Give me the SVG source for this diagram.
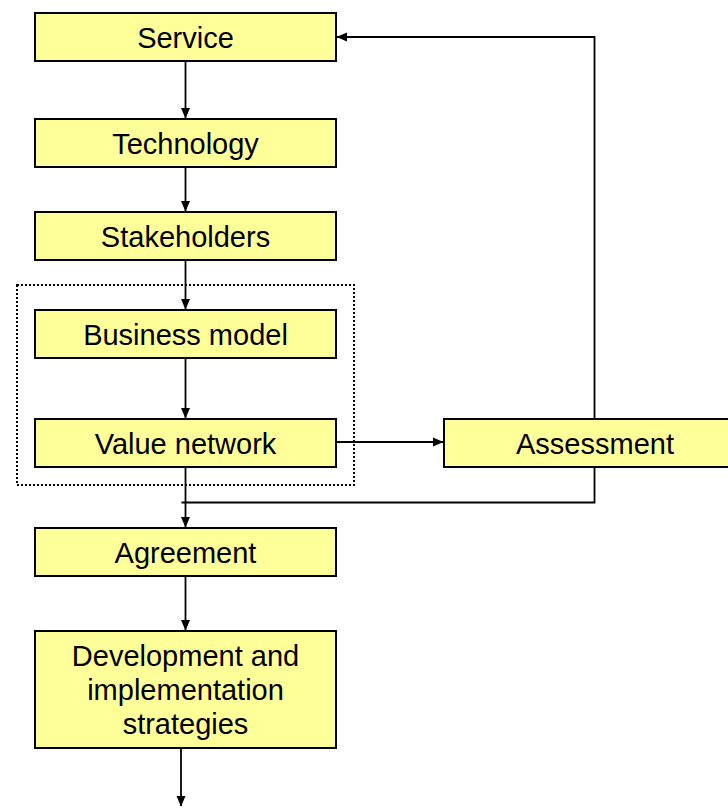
<svg xmlns="http://www.w3.org/2000/svg" width="728" height="808" viewBox="0 0 728 808">
<defs>
<style>
.box{fill:#FFFF99;stroke:#000;stroke-width:2}
.t{font-family:"Liberation Sans",Arial,sans-serif;font-size:29px;fill:#000;text-anchor:middle}
.c{fill:none;stroke:#000;stroke-width:1.8}
</style>
<marker id="ah" markerWidth="11" markerHeight="11" refX="10" refY="5.5" orient="auto" markerUnits="userSpaceOnUse">
<path d="M0,1 L10.5,5.5 L0,10 Z" fill="#000"/>
</marker>
</defs>
<rect width="728" height="808" fill="#fff"/>
<g id="connectors">
<line class="c" x1="185.5" y1="61" x2="185.5" y2="118" marker-end="url(#ah)"/>
<line class="c" x1="185.5" y1="167" x2="185.5" y2="211" marker-end="url(#ah)"/>
<line class="c" x1="185.5" y1="260" x2="185.5" y2="309" marker-end="url(#ah)"/>
<line class="c" x1="185.5" y1="358" x2="185.5" y2="418" marker-end="url(#ah)"/>
<line class="c" x1="336" y1="442" x2="443" y2="442" marker-end="url(#ah)"/>
<line class="c" x1="185.5" y1="467" x2="185.5" y2="527" marker-end="url(#ah)"/>
<polyline class="c" points="594.5,467 594.5,502.5 181.5,502.5"/>
<polyline class="c" points="594.5,419 594.5,37 337,37" marker-end="url(#ah)"/>
<line class="c" x1="185.5" y1="576" x2="185.5" y2="630" marker-end="url(#ah)"/>
<line class="c" x1="181" y1="748" x2="181" y2="806" marker-end="url(#ah)"/>
</g>
<g id="group-box">
<rect x="17" y="285" width="337" height="200" fill="none" stroke="#000" stroke-width="2" stroke-dasharray="2,2"/>
</g>
<g id="service"><rect class="box" x="35" y="13" width="301" height="48"/><text class="t" x="185.5" y="48">Service</text></g>
<g id="technology"><rect class="box" x="35" y="119" width="301" height="48"/><text class="t" x="185.5" y="154">Technology</text></g>
<g id="stakeholders"><rect class="box" x="35" y="212" width="301" height="48"/><text class="t" x="185.5" y="247">Stakeholders</text></g>
<g id="business-model"><rect class="box" x="35" y="310" width="301" height="48"/><text class="t" x="185.5" y="345">Business model</text></g>
<g id="value-network"><rect class="box" x="35" y="419" width="301" height="48"/><text class="t" x="185.5" y="454">Value network</text></g>
<g id="assessment"><rect class="box" x="444" y="419" width="302" height="48"/><text class="t" x="595" y="454">Assessment</text></g>
<g id="agreement"><rect class="box" x="35" y="528" width="301" height="48"/><text class="t" x="185.5" y="563">Agreement</text></g>
<g id="development"><rect class="box" x="35" y="631" width="301" height="117"/>
<text class="t" x="185.5" y="666">Development and</text>
<text class="t" x="185.5" y="700">implementation</text>
<text class="t" x="185.5" y="734">strategies</text></g>
</svg>
